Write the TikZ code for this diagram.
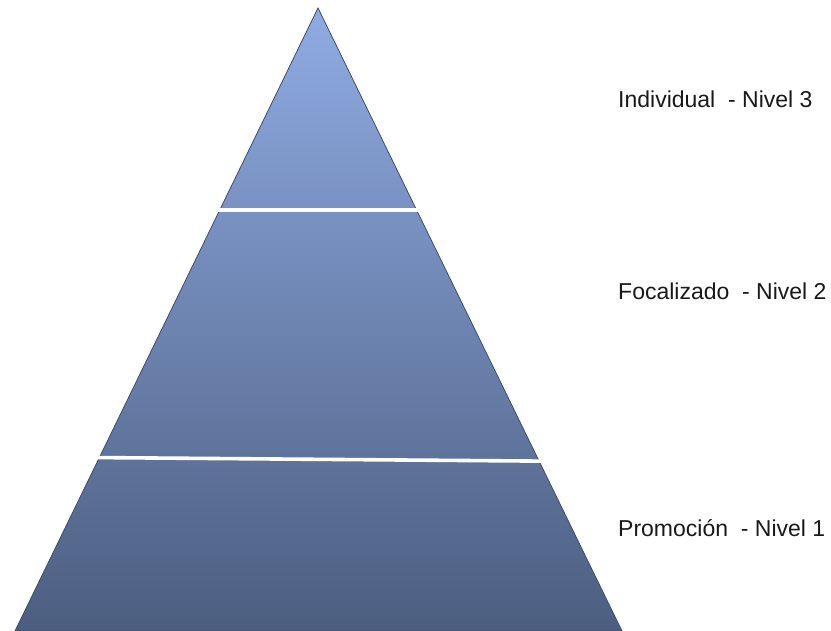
\documentclass[tikz,border=0pt]{standalone}
\usepackage{fontspec}
\setmainfont{Liberation Sans}
\definecolor{pyrtop}{RGB}{143,171,226}
\definecolor{pyrbot}{RGB}{76,94,128}
\definecolor{pyredge}{RGB}{60,76,108}
\definecolor{labeltext}{RGB}{25,25,25}
\tikzset{
  lvllabel/.style={anchor=base west, inner sep=0pt, text=labeltext, font=\fontsize{23pt}{26pt}\selectfont},
  gapline/.style={draw=white, line width=3.6pt},
}
\begin{document}
\begin{tikzpicture}[x=1pt,y=1pt]
\useasboundingbox (0,0) rectangle (831,631);
\coordinate (apex) at (318,623);
\coordinate (bl) at (15,0);
\coordinate (br) at (622,0);
\shade[top color=pyrtop, bottom color=pyrbot, draw=pyredge, line width=0.8pt, line join=miter]
  (apex) -- (br) -- (bl) -- cycle;
% white separators
\coordinate (g1l) at (210,421);
\coordinate (g1r) at (428,421);
\coordinate (g2l) at (88,173.5);
\coordinate (g2r) at (550,169.8);
\draw[gapline] (g1l) -- (g1r);
\draw[gapline] (g2l) -- (g2r);
% re-cover the outline beyond the edges with white
\node[lvllabel] (n3) at (618,523) {Individual\ \ - Nivel 3};
\node[lvllabel] (n2) at (618,331) {Focalizado\ \ - Nivel 2};
\node[lvllabel] (n1) at (618,94) {Promoción\ \ - Nivel 1};
\end{tikzpicture}
\end{document}
